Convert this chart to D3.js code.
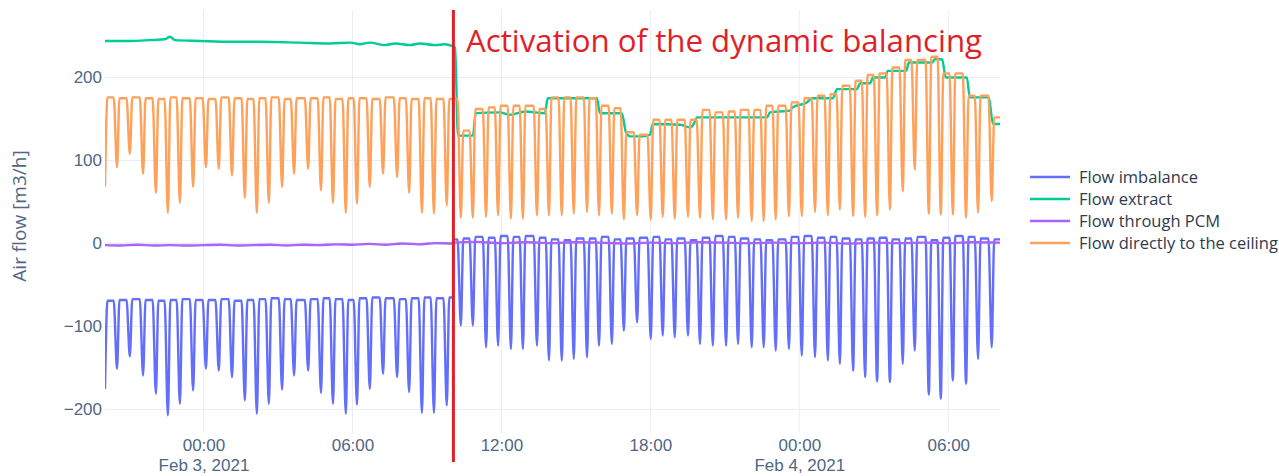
<!DOCTYPE html>
<html>
<head>
<meta charset="UTF-8">
<title>Air flow</title>
<script src="https://d3js.org/d3.v7.min.js"></script>
<style>
  body { margin: 0; background: #fff; }
  svg { display: block; font-family: "Open Sans", sans-serif; }
  .axis text { fill: #506784; font-size: 17px; }
  .axis path { display: none; }
</style>
</head>
<body>
<svg id="chart" width="1279" height="476"></svg>
<script>
// all times are minutes counted from Feb 3, 2021 00:00
const startMin = -238, endMin = 1925, activationMin = 604;

// before activation: one entry per dip of the supply cycle
const dipPre = [-238, -209, -178, -146, -115, -86, -57, -25, 6, 37, 69, 100, 129, 158,
  190, 219, 253, 284, 313, 344, 371, 402, 434, 468, 497, 528, 557, 588];
const orangeLowPre = [68, 92, 108, 84, 61, 37, 49, 68, 92, 90, 82, 55, 37, 49,
  68, 84, 90, 64, 49, 37, 48, 68, 84, 80, 61, 37, 36, 46];
// plateau before each dip, last one = plateau after the last dip
const orangeTopPre = [175, 176, 175, 176, 175, 174, 176, 175, 175, 174, 176, 175, 174, 175,
  176, 174, 175, 175, 176, 174, 175, 175, 174, 176, 175, 174, 175, 174, 174];
const blueLowPre = [-175, -151, -136, -159, -181, -207, -193, -177, -151, -153, -161, -189, -205, -193,
  -176, -159, -153, -180, -193, -205, -194, -175, -157, -161, -179, -204, -204, -195];
const blueTopPre = [-68, -69, -68, -67, -68, -69, -68, -67, -68, -68, -67, -69, -68, -67,
  -66, -67, -68, -67, -66, -67, -68, -66, -65, -66, -67, -66, -65, -66, -65];

// after activation
const dipPost = [622, 651, 683, 712, 743, 772, 806, 835, 866, 895, 927, 956, 987, 1016,
  1048, 1081, 1110, 1139, 1171, 1200, 1231, 1263, 1292, 1325, 1354, 1383, 1415,
  1446, 1478, 1509, 1538, 1570, 1599, 1628, 1659, 1690, 1719, 1753, 1782, 1811, 1843, 1872, 1905];
const orangeLowPost = [31, 31, 32, 34, 30, 30, 34, 34, 34, 36, 38, 34, 36, 29,
  34, 29, 32, 30, 32, 31, 29, 29, 31, 27, 27, 29, 33,
  33, 38, 34, 41, 33, 32, 34, 41, 63, 89, 36, 35, 35, 31, 37, 51];
const orangeTopPost = [174, 136, 162, 164, 166, 166, 166, 162, 176, 176, 176, 175, 166, 163,
  134, 131, 149, 149, 149, 149, 161, 158, 159, 161, 161, 166, 166,
  170, 175, 178, 180, 190, 196, 203, 205, 212, 221, 221, 225, 205, 205, 178, 178, 152];
const blueLowPost = [-99, -99, -125, -123, -127, -127, -123, -141, -141, -139, -137, -123, -121, -105,
  -95, -115, -111, -113, -111, -121, -123, -123, -121, -125, -125, -129, -127,
  -135, -137, -141, -145, -153, -161, -166, -167, -145, -129, -182, -187, -165, -169, -139, -125];
const blueTopPost = [5, 6, 8, 7, 9, 8, 9, 7, 5, 4, 6, 6, 8, 5, 6,
  7, 8, 5, 6, 4, 7, 9, 8, 6, 5, 4, 5, 8,
  9, 7, 8, 6, 5, 6, 7, 5, 6, 8, 4, 7, 9, 8, 6, 5];

// extract flow [minute, value]
const extractPts = [[-238, 244], [-178, 244], [-129, 245], [-93, 246], [-81, 249], [-69, 245], [-8, 244],
  [64, 243], [137, 243], [233, 242], [306, 241], [354, 242], [378, 240], [402, 242], [439, 239],
  [463, 241], [499, 239], [523, 241], [559, 239], [584, 240], [600, 238], [608, 236], [615, 130],
  [651, 130], [658, 157], [716, 158], [741, 155], [777, 159], [825, 157], [832, 175], [951, 175],
  [958, 157], [1011, 157], [1021, 134], [1031, 129], [1062, 129], [1079, 131], [1086, 144],
  [1152, 143], [1176, 140], [1185, 144], [1193, 152], [1362, 152], [1369, 158], [1417, 160],
  [1424, 164], [1458, 170], [1471, 175], [1521, 175], [1531, 186], [1579, 186], [1587, 193],
  [1611, 193], [1618, 200], [1647, 200], [1654, 208], [1698, 208], [1705, 218], [1761, 218],
  [1768, 222], [1785, 222], [1794, 200], [1845, 200], [1852, 176], [1898, 176], [1908, 144], [1925, 144]];

// flow through PCM [minute, value]
const pcmPts = [[-238, -2], [-200, -2.5], [-160, -1.5], [-120, -2.5], [-80, -2], [-40, -2.5], [0, -2],
  [40, -1.5], [80, -2.5], [120, -2], [160, -1.5], [200, -2.5], [240, -1.5], [280, -2], [320, -1],
  [360, -1.5], [400, -0.5], [440, -1.5], [480, 0], [520, -1], [560, 0.5], [603, 0], [605, 1],
  [660, 2], [720, 0.5], [780, 1.5], [840, 0.5], [900, 1.5], [960, 1], [1020, 0], [1080, 1],
  [1140, 0.5], [1200, 1.5], [1260, 1], [1320, 0.5], [1380, 1], [1440, 0.5], [1500, 1],
  [1560, 0], [1620, 1], [1680, 0.5], [1740, 1], [1800, 0.5], [1860, 1.5], [1925, 1]];

const seriesNames = ["Flow imbalance", "Flow extract", "Flow through PCM", "Flow directly to the ceiling"];
const seriesColors = ["#636efa", "#00cc96", "#ab63fa", "#ffa15a"];
const yTicks = [-200, -100, 0, 100, 200];
const title = "Activation of the dynamic balancing";

const base = new Date(2021, 1, 3, 0, 0);
const toDate = m => new Date(base.getTime() + m * 60000);

// join plateau / dip readings into a line
function cycles(t0, t1, times, lows, tops) {
  const pts = times[0] > t0 ? [[t0, tops[0]]] : [];
  times.forEach((t, i) => {
    pts.push([t - 8, tops[i]], [t, lows[i]], [t + 6, tops[i + 1]]);
  });
  pts.push([t1, tops[times.length]]);
  return pts.filter(p => p[0] >= t0 && p[0] <= t1);
}

const orange = cycles(startMin, activationMin - 1, dipPre, orangeLowPre, orangeTopPre)
  .concat(cycles(activationMin + 1, endMin, dipPost, orangeLowPost, orangeTopPost));
const blue = cycles(startMin, activationMin - 1, dipPre, blueLowPre, blueTopPre)
  .concat(cycles(activationMin + 1, endMin, dipPost, blueLowPost, blueTopPost));

const plotLeft = 105, plotRight = 1000, plotTop = 10, plotBottom = 433;
const svg = d3.select("#chart");

const x = d3.scaleTime().domain([toDate(startMin), toDate(endMin)]).range([plotLeft, plotRight]);
const y = d3.scaleLinear().domain([-228.3, 281.3]).range([plotBottom, plotTop]);

// grid
const xTickVals = d3.timeHour.every(6).range(toDate(startMin), toDate(endMin));
svg.append("g").selectAll("line").data(xTickVals).join("line")
  .attr("x1", d => x(d)).attr("x2", d => x(d))
  .attr("y1", plotTop).attr("y2", plotBottom)
  .attr("stroke", "#e9edf3").attr("stroke-width", 1);
svg.append("g").selectAll("line").data(yTicks).join("line")
  .attr("x1", plotLeft).attr("x2", plotRight)
  .attr("y1", d => y(d)).attr("y2", d => y(d))
  .attr("stroke", "#e9edf3").attr("stroke-width", d => d === 0 ? 2 : 1);

// axes
const xAxis = svg.append("g").attr("class", "axis")
  .attr("transform", `translate(0,${plotBottom})`)
  .call(d3.axisBottom(x).tickValues(xTickVals).tickSize(0).tickPadding(6)
    .tickFormat(d3.timeFormat("%H:%M")));
xAxis.selectAll(".tick text").each(function(d) {
  if (d.getHours() === 0) {
    d3.select(this).append("tspan").attr("x", 0).attr("dy", "1.2em")
      .text(d3.timeFormat("%b %-d, %Y")(d));
  }
});
svg.append("g").attr("class", "axis")
  .attr("transform", `translate(${plotLeft},0)`)
  .call(d3.axisLeft(y).tickValues(yTicks).tickSize(0).tickPadding(3)
    .tickFormat(d => d < 0 ? "\u2212" + Math.abs(d) : d));

svg.append("text")
  .attr("transform", "translate(26,216) rotate(-90)")
  .attr("text-anchor", "middle")
  .attr("fill", "#506784")
  .attr("font-size", 19)
  .text("Air flow [m3/h]");

// lines
svg.append("clipPath").attr("id", "plot")
  .append("rect").attr("x", plotLeft).attr("y", plotTop)
  .attr("width", plotRight - plotLeft).attr("height", plotBottom - plotTop);

const line = d3.line()
  .x(d => x(toDate(d[0])))
  .y(d => y(d[1]))
  .curve(d3.curveMonotoneX);

const series = [blue, extractPts, pcmPts, orange];
svg.append("g").attr("clip-path", "url(#plot)")
  .selectAll("path").data(series).join("path")
  .attr("d", line)
  .attr("fill", "none")
  .attr("stroke", (d, i) => seriesColors[i])
  .attr("stroke-width", 2.4)
  .attr("stroke-linejoin", "round");

// legend
const legend = svg.append("g").selectAll("g").data(seriesNames).join("g")
  .attr("transform", (d, i) => `translate(1030,${177 + i * 22})`);
legend.append("line")
  .attr("x1", 0).attr("x2", 40)
  .attr("stroke", (d, i) => seriesColors[i]).attr("stroke-width", 2.4);
legend.append("text")
  .attr("x", 49).attr("dy", "0.35em")
  .attr("font-size", 16.5).attr("fill", "#2f3a4c")
  .text(d => d);

// activation marker
const ax = x(toDate(activationMin));
svg.append("line")
  .attr("x1", ax).attr("x2", ax).attr("y1", 10).attr("y2", 462)
  .attr("stroke", "#e11f28").attr("stroke-width", 3);
svg.append("text")
  .attr("x", 466).attr("y", 52)
  .attr("font-size", 31).attr("fill", "#e11f28")
  .attr("textLength", 516).attr("lengthAdjust", "spacingAndGlyphs")
  .text(title);
</script>
</body>
</html>
